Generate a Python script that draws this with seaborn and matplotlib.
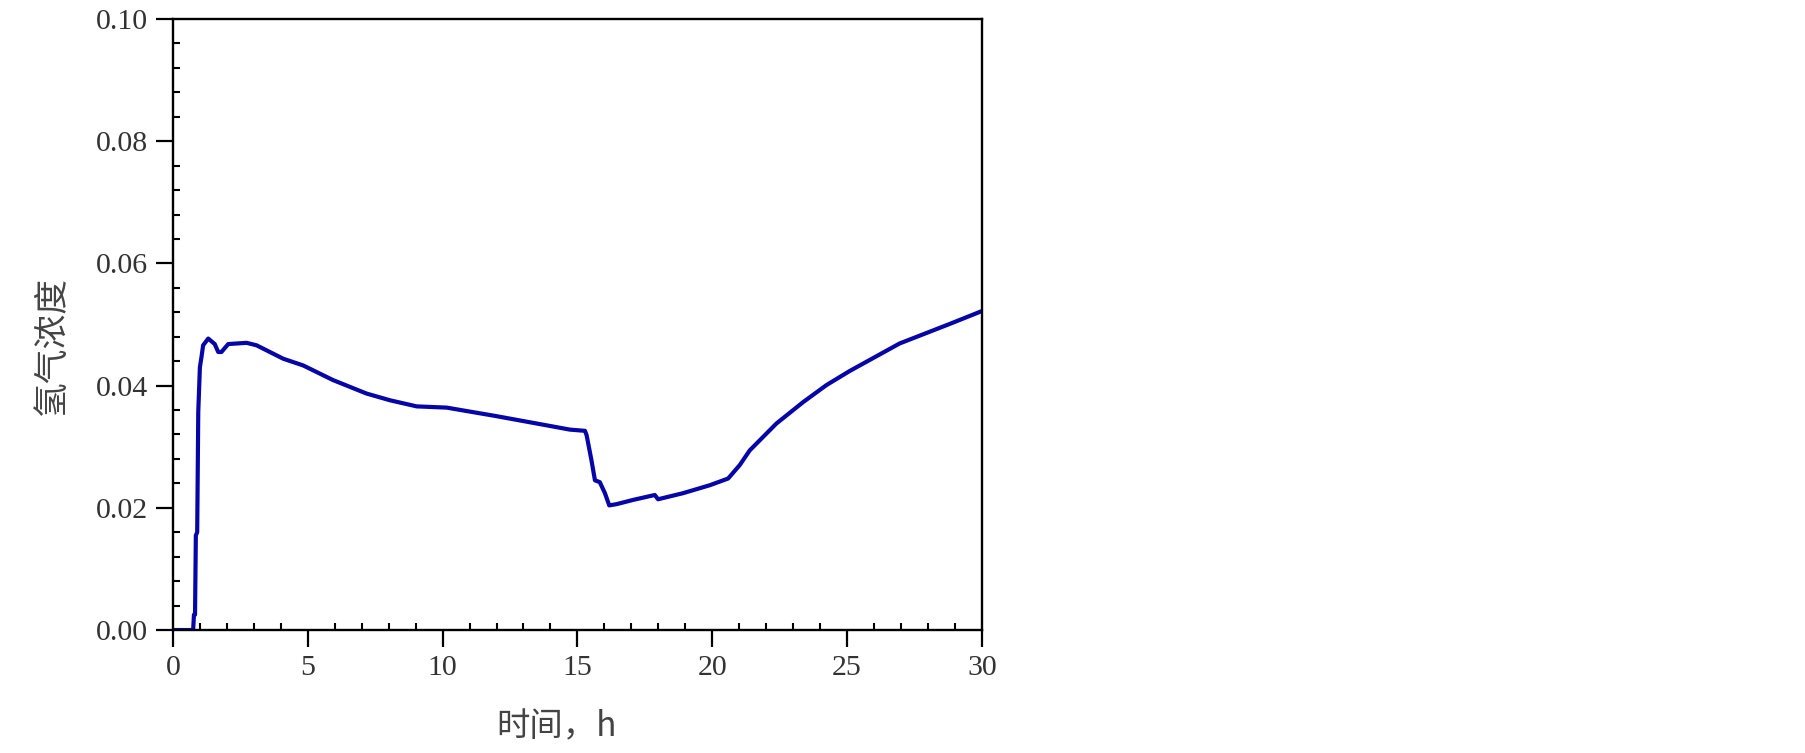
import pandas as pd
import seaborn as sns
import matplotlib.pyplot as plt
from matplotlib.ticker import MultipleLocator

# hydrogen concentration vs time
hours = [0.0, 0.75, 0.78, 0.82, 0.85, 0.90, 0.94, 1.00, 1.06, 1.12, 1.31,
         1.55, 1.68, 1.80, 2.05, 2.73, 3.10, 4.09, 4.83, 5.94, 7.18, 8.05,
         9.04, 10.15, 12.0, 13.98, 14.72, 15.28, 15.34, 15.52, 15.65, 15.83,
         16.02, 16.18, 16.45, 17.07, 17.87, 17.99, 18.92, 19.91, 20.59,
         21.02, 21.39, 22.38, 23.37, 24.24, 25.10, 26.95, 28.81, 30.0]
conc = [0.0, 0.0, 0.0025, 0.0025, 0.0155, 0.0160, 0.0357, 0.0430, 0.0447,
        0.0466, 0.0477, 0.0468, 0.0455, 0.0455, 0.0468, 0.0470, 0.0466,
        0.0444, 0.0433, 0.0409, 0.0387, 0.0376, 0.0366, 0.0364, 0.0350,
        0.0334, 0.0328, 0.0326, 0.0319, 0.0278, 0.0245, 0.0242, 0.0224,
        0.0204, 0.0206, 0.0213, 0.0221, 0.0214, 0.0224, 0.0237, 0.0248,
        0.0270, 0.0294, 0.0338, 0.0373, 0.0401, 0.0424, 0.0469, 0.0501, 0.0522]

xticks = [0, 5, 10, 15, 20, 25, 30]
yticks = [0.00, 0.02, 0.04, 0.06, 0.08, 0.10]

df = pd.DataFrame({"time": hours, "h2": conc})

sns.set_style("ticks")
plt.rcParams["font.family"] = ["Liberation Serif", "DejaVu Serif"]

fig = plt.figure(figsize=(18.05, 7.53), dpi=100)
ax = fig.add_axes([0.0958, 0.1633, 0.4482, 0.8115])

sns.lineplot(data=df, x="time", y="h2", ax=ax, color="#0505a8", linewidth=3.0,
             estimator=None, sort=False)

ax.set_xlim(0, 30)
ax.set_ylim(0, 0.10)
ax.set_xticks(xticks)
ax.set_yticks(yticks)
ax.set_xticklabels([str(t) for t in xticks])
ax.set_yticklabels([f"{t:.2f}" for t in yticks])
ax.xaxis.set_minor_locator(MultipleLocator(1))
ax.yaxis.set_minor_locator(MultipleLocator(0.004))

ax.tick_params(which="major", direction="out", length=12, width=1.6,
               pad=6, labelsize=21.5, labelcolor="#333333", color="black")
ax.tick_params(which="minor", direction="in", length=5, width=1.5, color="black")
for s in ax.spines.values():
    s.set_visible(True)
    s.set_linewidth(1.7)
    s.set_color("black")

cjk = ["Noto Sans CJK SC", "DejaVu Sans"]
ax.set_xlabel("时间，h", family=cjk, fontsize=24, color="#444444", va="center")
ax.set_ylabel("氢气浓度", family=cjk, fontsize=25, color="#444444", va="center")
ax.xaxis.set_label_coords(0.474, -0.159)
ax.yaxis.set_label_coords(-0.149, 0.466)

plt.savefig("out.png", dpi=100)
print("done")
